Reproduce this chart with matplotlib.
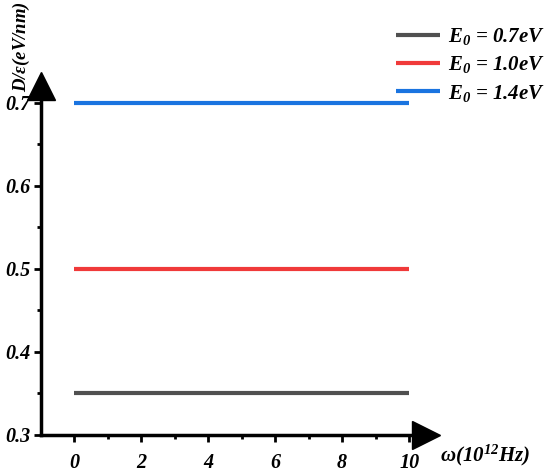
import matplotlib
matplotlib.use("Agg")
import matplotlib.pyplot as plt
import numpy as np

plt.rcParams['font.family'] = ['Liberation Serif', 'DejaVu Serif']
plt.rcParams['font.weight'] = 'bold'
plt.rcParams['font.style'] = 'italic'
plt.rcParams['mathtext.fontset'] = 'custom'
plt.rcParams['mathtext.rm'] = 'Liberation Serif:bold:italic'
plt.rcParams['mathtext.it'] = 'Liberation Serif:bold:italic'
plt.rcParams['mathtext.bf'] = 'Liberation Serif:bold:italic'

# data
omega = [0, 10]
labels = [r'$E_0$ = 0.7eV', r'$E_0$ = 1.0eV', r'$E_0$ = 1.4eV']
values = [0.35, 0.50, 0.70]
colors = ['#505050', '#f03a3a', '#1a74e0']
xticks = [0, 2, 4, 6, 8, 10]
yticks = [0.3, 0.4, 0.5, 0.6, 0.7]

fig = plt.figure(figsize=(5.5, 4.74), dpi=100)
ax = fig.add_axes([40.5/550, 1-435/474, 385.5/550, 349/474])

for v, c, lab in zip(values, colors, labels):
    ax.plot(omega, [v, v], color=c, lw=3, label=lab, solid_capstyle='butt')

ax.set_xlim(-1, 10.5)
ax.set_ylim(0.3, 0.72)
ax.spines['top'].set_visible(False)
ax.spines['right'].set_visible(False)
ax.spines['left'].set_linewidth(2.5)
ax.spines['bottom'].set_linewidth(2.5)

ax.set_xticks(xticks)
ax.set_xticks(np.arange(1, 11, 2), minor=True)
ax.set_yticks(yticks)
ax.set_yticks(np.arange(0.35, 0.71, 0.1), minor=True)
ax.set_yticklabels(['%.1f' % t for t in yticks])
ax.tick_params(which='major', direction='out', length=5, width=2, labelsize=14.5)
ax.tick_params(axis='x', which='major', pad=8)
ax.tick_params(axis='y', which='major', pad=2)
ax.tick_params(which='minor', direction='out', length=3, width=2)

# arrows at axis ends
ax.plot(1.0, 0.3, marker='>', ms=20, color='k', transform=ax.get_yaxis_transform(), clip_on=False)
ax.plot(-1, 1.0, marker='^', ms=20, color='k', transform=ax.get_xaxis_transform(), clip_on=False)

fig.text(440/550, 1-455/474, r'$\omega$(10$^{12}$Hz)', fontsize=15, ha='left', va='center')
fig.text(21/550, 1-47/474, r'D/$\varepsilon$(eV/nm)', fontsize=13.5, rotation=90, ha='center', va='center')

ax.legend(loc='upper right', bbox_to_anchor=(545/550, 1-26/474), bbox_transform=fig.transFigure,
          frameon=False, fontsize=15, handlelength=2.1, labelspacing=0.35, handletextpad=0.4,
          borderaxespad=0, borderpad=0)

fig.savefig('out.png', dpi=100)
